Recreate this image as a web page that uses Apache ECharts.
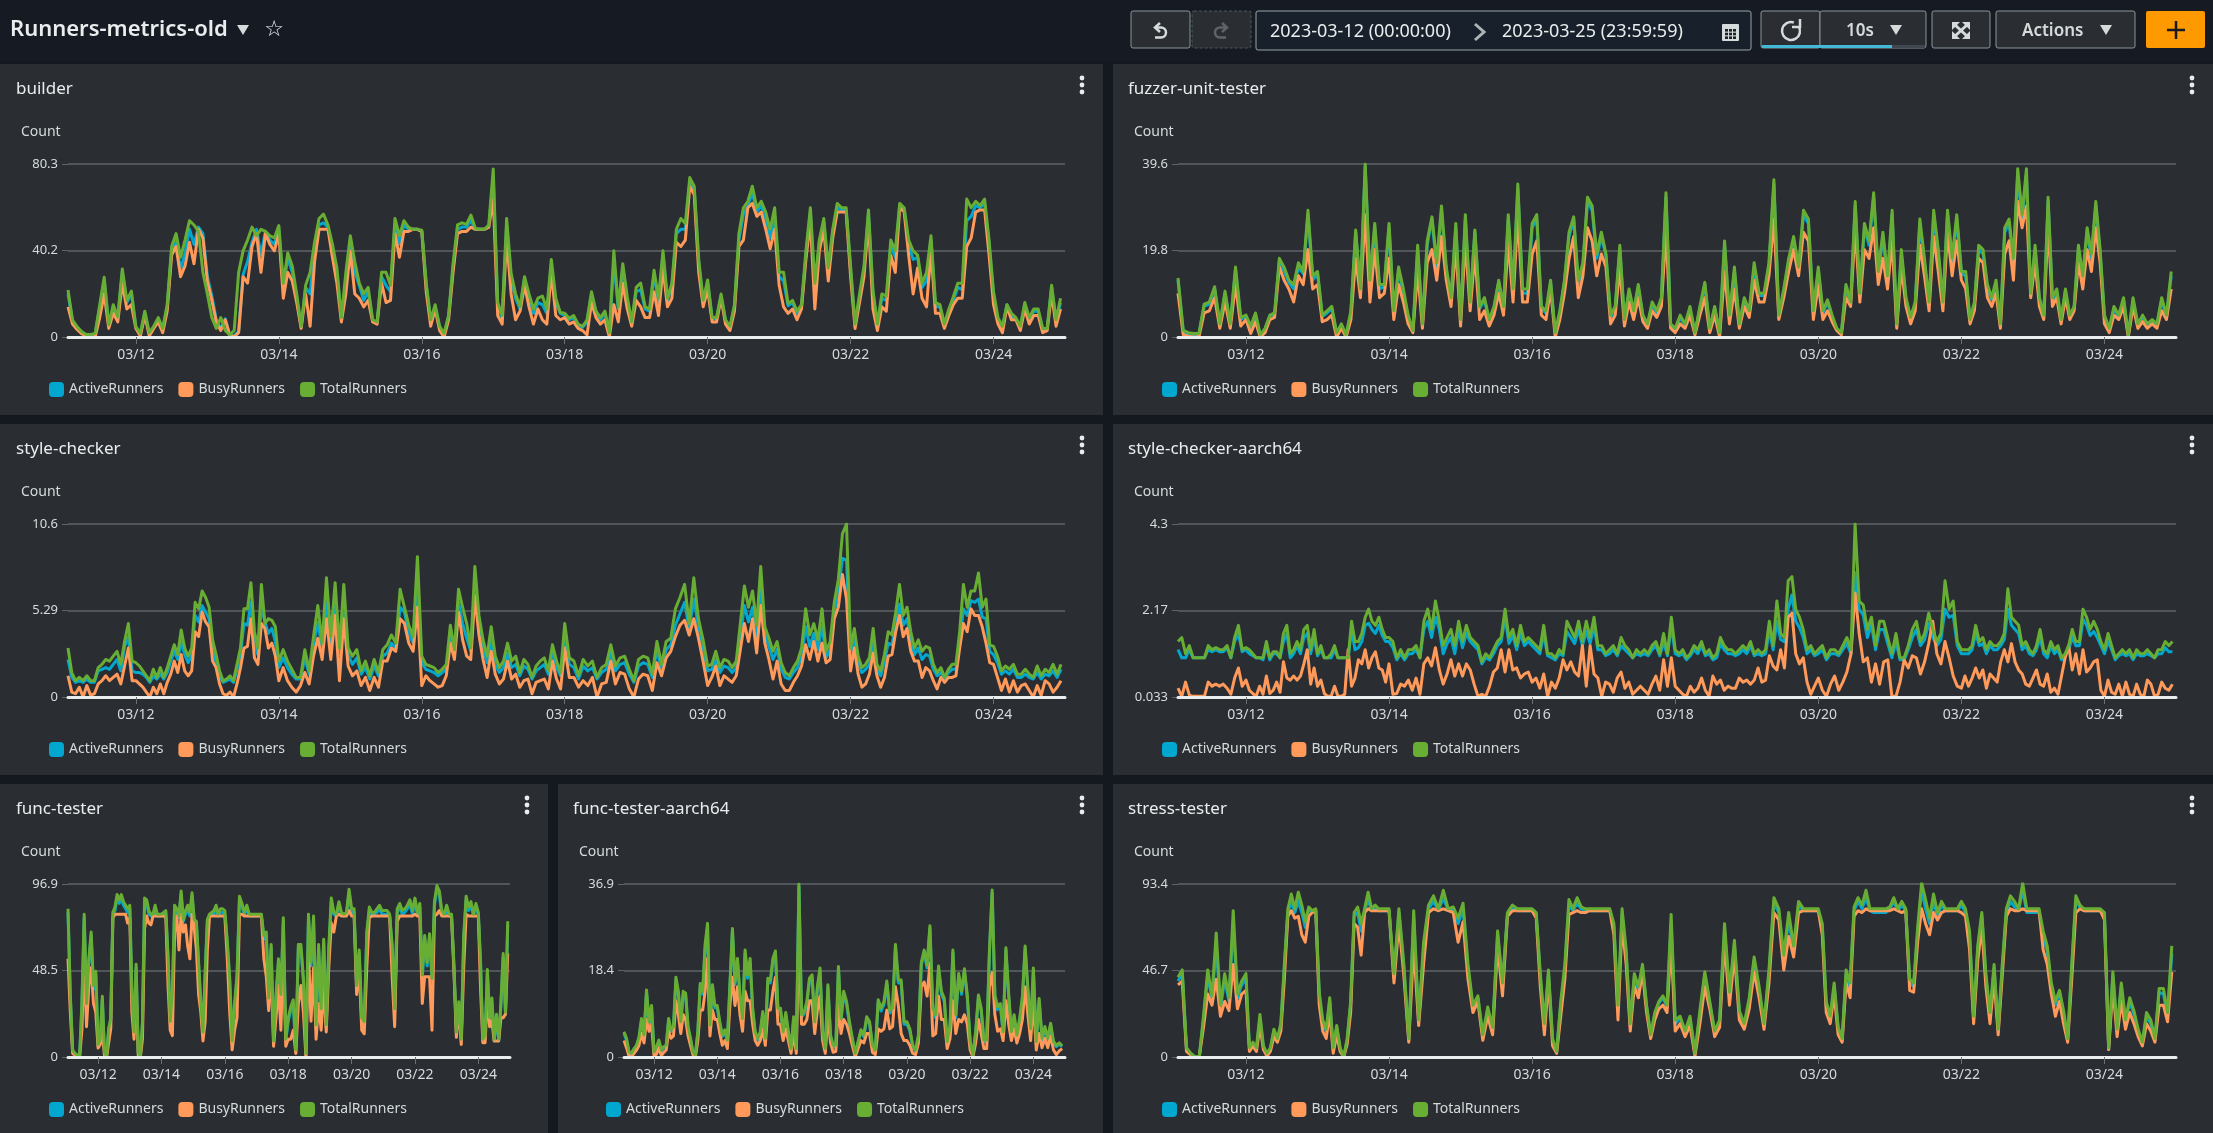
<!DOCTYPE html>
<html><head><meta charset="utf-8">
<style>html,body{margin:0;padding:0;background:#14181f;overflow:hidden}#c{width:2213px;height:1133px}</style>
<script src="https://cdn.jsdelivr.net/npm/echarts@6/dist/echarts.min.js"></script>
</head><body><div id="c"></div>
<script>
const xTickLabels=['03/12','03/14','03/16','03/18','03/20','03/22','03/24'];
const seriesNames=['ActiveRunners','BusyRunners','TotalRunners'];
const seriesColors=['#01a7cf','#ff9a5a','#69ae34'];

const builderTicks=[0,40.2,80.3];
const builderTotal=[
[21.8,7.9,4.8,2.5,1.2,1.2,1.7,14.9,27.7,5.6,15,9.4,31.6,17,21.3],
[4.8,1.7,12,2,5,9,4,15,42,48,37,45,54,52,49,30,20,9,4,9,3,1,3,30,40,45,51,47,50,49,47,46],
[51.7,25,39,33,20,5,24,30,44,55,57,52,43,32,9,30,47,35,25,20,23,8,7,30,30,24,55,47,54,51,50,50],
[49.6,25,8,15,5,1.7,10,34,52,53,52.3,56.6,50.4,50,50,52,78,16,10,55,29.5,20,14,28,20,13,18,19,13,36,18,11.4],
[11,8.7,10,6,5,8,21,12,9,12,2,40,14,34,18.7,7,23,25,14,13,31,18,40,18,25,50,55,52.7,74,70,36,17],
[26.5,9,9,20,8,5,15,48,60,63,70,60,63,58,50,60,30,30,15.6,17,12,15,40,60,25,45,55,32,50,62,60,60],
[33,6,20,33,59,22,6,20,19,45,40,62,60,45,40,38,25,30,47,16,15,6,13,18.7,25,25,64,60,63,61,64,45],
[21,9,5,15,11,9,5,16,9,13,13,4,4,24,8,18]];
const builderBusy=[
[14,6,3.5,1.5,0.5,0,0,9,20,4,11,7,25,13,15],
[4,0.5,10,0.5,4,7,2,12,38,42,28,33,44,34,50,46,26,17,7,3,8,1,0,2,28,25,42,48,30,48,43,40],
[48,18,30,26,16,4,20,5,35,50,50,50,37,25,7,20,40,20,18,14,17,7,6,25,16,17,48,37,49,49,50,50],
[49,21,5,13,3,0,8,30,48,49,49,51,50,50,50,51,64,10,6,46,20,8,12,24,14,6,13,8,6,30,10,8],
[9,6,7,4,3,1,16,9,6,8,0,15,7,25,13,5,17,14,9,9,21,10,32,14,18,44,42,45,70,66,30,14],
[22,7,7,18,6,3,12,42,45,60,62,56,58,50,41,50,24,14,11,13,8,13,36,54,13,40,50,26,46,58,58,58],
[28,4,16,28,54,13,3,14,12,38,30,60,58,38,20,32,18,14,40,11,11,4,10,15,18,18,42,46,58,59,59,38],
[15,6,2,14,8,8,3,13,6,10,10,2,3,20,5,13]];
const builderActive=[
[20,7.5,4.5,2.2,1,1,1.5,13.5,26,5.2,14,9,30,16,20],
[4.5,1.2,11,1.5,4.5,8.5,3.5,14,40,45,31,39,50,43,51,48,28,19,8,3.8,8.5,0.8,0.5,2.6,29,35,44,50,38,49,45,43],
[50,22,37,30,18,4.5,23,20,42,52,53,51,41,30,8.4,26,45,30,24,17,21,7.5,6.5,28,24,21,52,43,52,50,50,50],
[49,24,7,14,4.5,1.2,9.5,32,50,51,51,54,50,50,50,51,74,14,9,52,27,18,13,27,18,11,16,15,11,33,16,11],
[10,8,9,5.5,4.5,7,20,11,8,11,1.5,35,13,32,17,6,21,22,13,12,29,16,38,17,24,48,50,50,72,68,34,16],
[25,8.5,8.5,19,7.5,4.5,14,45,57,61,67,58,61,55,46,56,28,26,14.5,16,11,14,38,58,20,44,53,30,49,60,59,59],
[31,5.5,18,31,57,20,5.5,18,17,43,37,61,59,43,36,37,23,26,45,14,14,5.5,12,17,23,22,54,56,61,60,62,43],
[19,8,4,15,10,8.5,4.5,15,8,12,12,3.5,3.5,23,7.5,16]];

const fuzzerTicks=[0,19.8,39.6];
const fuzzerTotal=[
[13.5,1.5,1,0.8,0.8,7.5,8,11.5,3,10.5,3,16,4.5],
[5,2.5,5.5,0.5,2,5,5.5,18,16,13,12,17,15,29,14,15,5,6,7,1,3,0.5,6,24.5,11,39.6,13,26,12,12],
[26,6,16,11,5,1.5,21,3,22,27.5,17,30,16,9,26,4,28,8,24.5,7,9,4,7,13,7,28,11,35,11,11],
[26,28,7,6,13,1,6,13,24,27.5,13,17,32,30,19,24,19,5,7,21,4,11,6,12,5,3,8,6,9,33,3],
[2,5,3,7,1,7,12.5,2,7,1,22,5,16,3,9,6,17,10,10,17,36,5,11,18,23,16,29,27,6],
[16,6,8.5,5,2,1,12,8,31,10,26,22,33,15,24,14,29,3,20,9,4.5,8,27,18,8,29,20,8,29,18,28],
[15,15,4,8,21,20,12,9,13,3,25,27,18,38.5,28,38.5,10,21,9,5,32,9,11,4,11,5,7,21,14,25,19,31,20],
[5,2,7,5,9,0.5,9,3,5,3,4,3,9,5,15]];
const fuzzerBusy=[
[10,0.5,0.2,0,0,5.5,6,9,2,8,2,12,2.5],
[4,0.8,3.5,0,1,4,4.5,16,13,11,8,14,12,20,11,12,3.5,4,5,0,2,0,4,18,9,28,8,20,9,10],
[18,4,12,8,3,1,15,2,17,20,13,23,13,7,21,2.5,22,6,19,4,6,2.5,5,10,5,22,8,28,8,8],
[19,22,5,4,11,0,4,10,18,23,9,14,25,22,14,19,16,3,5,16,2.5,8,4,9,3.5,2,6,4.5,7,24,2],
[1,3,2,5,0.5,5,9,1,5,0,15,3,11,2,7,4.5,13,8,8,14,27,4,9,15,20,14,24,22,4],
[12,4,6,3.5,1.5,0.5,9,7,25,8,20,18,25,12,18,11,22,2,16,7,3,6,21,14,6,23,15,6,24,14,22],
[13,11,3,6,18,17,9,7,10,2,19,22,13,31,25,30,9,17,7,4,26,7,9,3,9,4,6,17,11,20,15,25,17],
[3,1,5,4,7,0,7,2,3.5,2,3,2,6,4,11]];
const fuzzerActive=[
[13,1.2,0.8,0.6,0.6,7,7.5,11,2.8,10,2.8,15.5,4],
[4.7,2.2,5,0.4,1.8,4.8,5.2,17.5,15,12.5,11,16,14.5,28,13,14.5,4.7,5.5,6.5,0.8,2.7,0.3,5.5,24,10.5,39,12,25,11,11.5],
[25,5.5,15,10,4.5,1.2,20,2.7,21,27,16,29,15,8.5,25,3.7,27,7.5,24,6.5,8.5,3.7,6.5,12.5,6.5,27,10,34,10,10],
[25,27,6.5,5.5,12.5,0.8,5.5,12.5,23,27,12,16.5,31,29,18,23,18.5,4.5,6.5,20,3.5,10.5,5.5,11.5,4.5,2.7,7.5,5.5,8.5,32,2.7],
[1.7,4.5,2.7,6.5,0.8,6.5,12,1.7,6.5,0.7,21,4.5,15,2.7,8.5,5.5,16,9.5,9.5,16,35,4.5,10.5,17,22,15,28,26,5.5],
[15,5.5,8,4.5,1.8,0.8,11.5,7.5,30,9.5,25,21,32,14,23,13,28,2.7,19,8.5,4,7.5,26,17,7.5,28,19,7.5,28,17,27],
[14.5,14,3.7,7.5,20,19,11,8.5,12,2.7,24,26,17,37,27,37,9.5,20,8.5,4.5,31,8.5,10.5,3.7,10.5,4.5,6.5,20,13,24,18,30,19],
[4.5,1.7,6.5,4.5,8.5,0.3,8.5,2.7,4.5,2.7,3.6,2.7,8.5,4.5,14]];

const styleTicks=[0,5.29,10.6];
const styleTotal=[
[3,1.5,1,1.2,1,1.3,1,1,1.8,2,2.3,2.2,2.5,2.8,2,3.4,4.5,2.2],
[2.1,1.9,1.6,1.3,1,1.7,1.2,1.8,1.2,1.8,2.5,3.2,2.6,4.1,3,2.5,3,5.8,5.4,6.5,6.1,5.5,3.5,2.6,1.6,1,1.1,1.3,1,2,3,5.4,5.4,7,4,3,6.9,4.5,4.8,4.7,4.3],
[2.2,2.9,2.2,1.7,1.2,1.2,2.9,1.6,3.7,5.6,3.3,7.3,3.7,7,3,6.9,3,2.5,2.9,1.6,2.2,1.3,2.3,1.5,2.9,3.2,3.8,3.3,6.6,5.5,4.4,3.7,8.6],
[2.5,2,1.9,1.8,1.5,1.7,2,4.4,2.9,6.6,5.5,4.5,3,8,5,3.5,2.5,4.3,2.5,1.8,2.2,3.3,2.2,2.5,1.5,2.3,2,1.2,1.9,2.2,2.4,1.6,3.2,2.2,1.5],
[4.5,2.4,2.2,1.3,2.3,1.9,2.2,1.2,1.8,2,3.2,1.9,2.4,2.5,1.7,1,2.3,2.5,2.4,1.4,3.4,2,3.4,3.6,5.4,6.1,6.9,4.5,7.3,4.8,3.5],
[1.9,2,2.8,1.8,2.3,2.2,1.8,2.2,4.5,6.8,5.5,6.5,4.4,8,4.3,3.6,2.8,3.4,2.1,1.5,1.3,1.8,2.2,3,5.4,3.8,4.5,3.5,5.4,2.8,3.4,5.8,7.2,10,10.6],
[3,4.2,2.5,1.8,2,2.4,4.2,2,1.6,2.6,4,3.8,5.2,6.9,5,5.5,4,3,3.5,2.8,3.1,3,2,1.5,1.8,1.2,1.7,2,2,4,6.9,5.5,6.5,6.5,7.6,5.5,6,3.2],
[3.1,2.5,1.6,1.9,1.7,2,1.4,1.4,1.7,1.4,1.2,1.9,1.3,1.7,1.5,2,1.4,2]];
const styleBusy=[
[1.3,0.3,0.2,0.6,0,0.7,0.1,0.2,0.8,1,1.3,1,1.2,1.4,0.8,1.9,3,1],
[1,0.8,0.6,0.3,0,0.6,0.2,0.8,0.2,0.9,1.4,2.2,1.5,2.6,1.6,1.3,1.6,4,3.7,5.2,4.6,4.3,2.2,1.8,0.8,0.2,0.1,0.3,0,0.8,1.8,3,3.1,4.8,2.4,2,4.5,4.2,3,3.3,2.5],
[1,1.8,1,0.6,0.3,0.7,1.5,0.8,2.5,3.6,2.3,4.8,2.3,5,1,4.8,1.9,1.3,1.6,0.7,1.2,0.4,1.2,0.6,2.2,2.2,3,2.8,4.8,4.5,3.3,2.8,5.5],
[0.7,1.3,1,0.8,0.6,0.7,1.3,3.3,2.3,5.2,3.5,2.5,2.3,6.2,3.8,2.3,1.2,2.8,1.4,0.8,1.1,2.2,1.1,1.4,0.6,1,1.1,0.2,0.9,1,1.1,0.5,2.2,1.1,0.5],
[3,1.2,1.2,0.6,1,0.7,1.2,0,0.8,0.9,2.2,0.8,1.5,1.4,0.5,0,1.1,1.4,1.3,0.4,2.1,1.3,2.4,2.8,3.7,4.4,4.7,3.8,4.8,3.6,2.2],
[0.7,1.2,1.9,0.7,1.3,1.1,0.9,1.3,2.9,4.5,3.4,4.8,2.7,5.6,3.3,2.3,1.1,2.2,0.8,0.4,0.4,0.9,1.3,1.9,3.2,2.3,3.4,2.2,3.3,2.1,2.3,4.8,5.5,7.5,6],
[1.6,3,1.4,0.6,0.8,1.4,2.7,1.3,0.6,1.2,2.5,2.6,4,5,3.7,4.2,2.8,2.2,2.2,1.2,1.8,1.6,1,0.5,1.2,0.9,1.2,1.2,1.3,3,4.5,4,5.4,5,5,4.3,3.3,2.1],
[2,1.2,0.4,1.1,0.3,1,0.3,0.7,0.8,0.4,0,0.7,0.1,1,0.8,0.3,0.6,1]];
const styleActive=[
[2.3,1.2,0.9,1,0.9,1.1,0.9,0.9,1.6,1.7,1.8,1.7,2,2.3,1.6,3.1,3.7,1.6],
[1.5,1.5,1.4,1.2,0.9,1.3,1.1,1.4,1.1,1.5,2.2,2.8,2.3,3.4,2.6,2.1,2.6,5,4.6,5.6,5.2,4.8,3,2.1,1.3,0.9,1,1.1,0.9,1.7,2.6,4.5,4.4,5.8,3.3,2.6,5.6,4.6,3.9,4.2,3.4],
[1.8,2.4,1.8,1.4,1.1,1.1,2.4,1.4,3.2,4.6,2.9,5.8,3,5.6,2.6,5.6,2.6,2,2.4,1.4,1.8,1.1,1.9,1.3,2.5,2.7,3.3,3,5.5,5.2,3.9,3.3,6.8],
[2.1,1.7,1.6,1.5,1.3,1.5,1.7,3.8,2.6,5.8,4.5,3.6,2.8,7,4.2,3,2.1,3.5,2,1.5,1.8,2.7,1.8,2,1.3,1.9,1.7,1.1,1.6,1.8,2,1.4,2.8,1.8,1.3],
[3.8,2,1.8,1.1,1.9,1.6,1.8,1.1,1.5,1.7,2.7,1.6,2,2.1,1.4,0.9,1.9,2.1,2,1.2,2.9,1.7,2.9,3.2,4.4,5.1,5.8,4.2,6,4.3,3],
[1.6,1.7,2.3,1.5,1.9,1.8,1.5,1.8,3.7,5.6,4.6,5.5,3.7,6.7,3.8,3.1,2.3,2.9,1.7,1.2,1.1,1.5,1.8,2.5,4.3,3.1,3.9,2.9,4.4,2.4,2.9,5.2,6.5,8.5,8.4],
[2.4,3.5,2,1.5,1.7,2,3.5,1.7,1.3,2.2,3.3,3.2,4.5,5.7,4.4,4.8,3.5,2.6,3,2.3,2.6,2.5,1.7,1.3,1.5,1.1,1.5,1.7,1.7,3.4,5.4,5,5.9,5.8,6,4.9,4.8,2.8],
[2.6,2.1,1.4,1.6,1.4,1.7,1.2,1.2,1.4,1.2,1.1,1.5,1.1,1.4,1.3,1.6,1.2,1.7]];

const styleArmTicks=[0.033,2.17,4.3];
const styleArmTotal=[
[1.4,1.5,1.1,1.3,1,1,1,1,1.3,1.2,1.25,1.2,1.2,1.3,1,1.5,1.8,1.2],
[1.25,1.2,1.1,1,1,1,1.4,1,1.15,1.15,1,1.6,1.8,1.1,1.2,1.4,1.2,1.7,1.8,1.2,1.7,1.1,1.3,1,1,1.1,1.3,1,1,1,1,1.9,1.4,1.4,1.6,2,2.2,1.9,1.8,2,1.7,1.5],
[1.5,1.4,1,1.2,1,1.2,1.2,1.3,1,1.9,2.2,1.7,2.4,1.9,1.3,1.5,1.7,1.3,1.9,1.4,1.8,1.5,1.4,1.3,0.9,1.1,1,1.2,1.4,1.5,2.2,1.5,1.7,1.3,1.8,1.4,1.5],
[1.4,1.3,1.2,1.8,1.1,1.1,1,1.2,1.1,1.9,1.7,1.5,1.9,1.4,1.9,1.5,2,1.3,1.3,1.1,1.2,1.3,1.1,1.5,1.3,1.2,1,1.2,1.1,1.2,1.1,1.3,1.4,1.1,1.6,1.1,2],
[1.2,1.1,1.2,1,1.1,1.3,1.2,1.4,1.1,1.2,1,1.1,1.5,1.3,1.2,1.2,1.1,1.2,1.3,1.2,1.4,1.1,1.2,1.1,1.2,1.9,1.3,2.4,1.6,1.5,2.9,3,2.2,2,1.7,1.2,1.3,1.1],
[1.2,1.3,1,1.2,1.2,1.1,1.3,1.5,1.2,4.3,2.4,2.3,1.7,2,1.3,1.9,1.9,1.5,1.1,1.6,1,1,1.3,1.7,1.9,1.4,1.6,2.1,1.7,1.4,1.6,2.9,2.2,2.4,1.4],
[1.2,1.2,1.2,1.3,1.8,1.4,1.5,1.2,1.4,1.3,1.3,1.4,1.6,2.7,2,1.9,1.8,1.3,1.4,1.2,1.1,1.3,1.7,1.2,1.1,1.4,1.2,1.3,1,1.1,1.3,1.7,1.4,1.4,2.2,2,1.7,1.9,1.7,1.4],
[1.2,1.6,1.3,1,1.1,1.2,1.1,1.2,1,1.2,1.1,1.1,1.2,1.1,1,1.2,1.2,1.4,1.3,1.4]];
const styleArmBusy=[
[0.25,0.05,0.4,0.08,0.05,0.05,0.05,0.05,0.4,0.3,0.35,0.3,0.35,0.25,0.1,0.5,0.75,0.3],
[0.45,0.2,0.12,0.05,0.3,0.1,0.55,0.12,0.2,0.4,0.15,0.9,0.5,0.45,0.55,0.45,0.55,0.85,1.2,0.35,0.75,0.3,0.45,0.12,0.05,0.05,0.3,0.05,0.05,0.1,1.2,0.3,0.5,0.95,0.85,1.2,0.75,1,1.15,0.75,0.7,0.4],
[0.85,0.1,0.12,0.35,0.3,0.45,0.2,0.5,0.1,0.85,1,0.8,1.25,0.7,0.35,0.6,0.95,0.55,0.85,0.55,0.85,0.7,0.35,0.05,0.1,0.05,0.3,0.65,0.75,1.2,0.65,1.2,0.7,0.75,0.5,0.6,0.65],
[0.4,0.5,0.25,0.6,0.05,0.4,0.25,0.5,0.95,0.7,0.9,0.65,0.55,1.3,0.3,1.3,0.6,0.5,0.05,0.4,0.35,0.15,0.5,0.65,0.25,0.4,0.1,0.2,0.3,0.2,0.1,0.35,0.55,0.2,0.95,0.3,1],
[0.3,0.2,0.1,0.05,0.3,0.15,0.25,0.5,0.2,0.05,0.55,0.35,0.45,0.2,0.3,0.25,0.25,0.5,0.4,0.45,0.35,0.45,0.75,0.4,0.45,1.05,0.8,0.7,1.2,0.75,2,2.1,1.1,0.85,1,0.4,0.1,0.3],
[0.5,0.2,0.05,0.35,0.55,0.2,0.4,0.65,1.1,2.6,1.6,0.9,1,0.4,0.85,0.35,0.9,0.95,0.05,0.05,0.4,0.95,0.75,1.05,1,0.6,0.9,1.35,1.9,1.1,0.85,1.4,1,0.55,0.3],
[0.25,0.55,0.3,0.5,0.75,0.5,0.7,0.25,0.6,0.5,0.4,0.9,1.2,0.9,1.35,0.9,0.7,0.6,0.35,0.3,0.5,0.7,0.35,0.3,0.6,0.15,0.25,0.1,0.55,1,1.3,0.7,1.1,0.6,1.2,0.65,0.75,0.9,0.95,0.2],
[0.05,0.45,0.15,0.1,0.35,0.05,0.4,0.1,0.05,0.35,0.1,0.05,0.45,0.35,0.05,0.1,0.4,0.25,0.2,0.35]];
const styleArmActive=[
[1.2,1,1,1.2,1,1,1,1,1.2,1.15,1.2,1.15,1.15,1.25,1,1.4,1.6,1.15],
[1.2,1.1,1.05,1,1,0.95,1.3,0.95,1.1,1.1,1,1.4,1.6,1,1.1,1.3,1.1,1.5,1.6,1.1,1.5,1.05,1.2,1,1,1,1.2,1,1,1,1,1.7,1.2,1.25,1.4,1.8,1.85,1.7,1.6,1.8,1.55,1.4],
[1.4,1.25,0.95,1.1,0.95,1.1,1.1,1.2,1,1.7,1.9,1.5,2,1.7,1.1,1.35,1.5,1.1,1.7,1.25,1.6,1.4,1.3,1.2,0.85,1,0.95,1.1,1.3,1.4,2,1.35,1.55,1.2,1.6,1.3,1.4],
[1.3,1.2,1.1,1.6,1.05,1,0.95,1.1,1.05,1.65,1.5,1.35,1.7,1.3,1.65,1.35,1.8,1.2,1.2,1.05,1.1,1.2,1.05,1.3,1.2,1.1,1,1.1,1.05,1.1,1.05,1.2,1.3,1.05,1.4,1.05,1.8],
[1.1,1.05,1.1,0.95,1.05,1.2,1.1,1.3,1.05,1.1,0.95,1,1.35,1.2,1.1,1.1,1.05,1.1,1.2,1.1,1.3,1.05,1.1,1.05,1.1,1.7,1.2,1.9,1.45,1.4,2.2,2.55,1.9,1.75,1.5,1.1,1.2,1.05],
[1.1,1.2,0.95,1.1,1.1,1.05,1.2,1.35,1.1,3.1,2.2,2.05,1.5,1.8,1.2,1.7,1.7,1.35,1,1.4,0.95,0.95,1.2,1.5,1.7,1.3,1.45,1.85,1.5,1.3,1.45,2.2,2,2.05,1.3],
[1.1,1.1,1.1,1.2,1.6,1.3,1.35,1.1,1.3,1.2,1.2,1.3,1.45,2.2,1.8,1.7,1.6,1.2,1.3,1.1,1.05,1.2,1.5,1.1,1,1.3,1.1,1.2,0.95,1.05,1.2,1.5,1.3,1.3,1.95,1.8,1.55,1.65,1.5,1.3],
[1.1,1.4,1.2,0.95,1.05,1.1,1.05,1.1,0.95,1.1,1.05,1.05,1.1,1.05,1,1.1,1.1,1.25,1.15,1.15]];

const funcTicks=[0,48.5,96.9];
const funcTotal=[
[83,35,4,2,1,0,30,80,30,55,70,40,48],
[7,10,34,3,0,16,22,81,84,91,88,91,87,85,83,85,37,14,52,3,0,20,89,88,82,80,80,85,80,80],
[80,81,82,57,20,37,85,83,79,93,77,82,85,81,92,77,76,53,31,14,48,77,80,81,82,85,80,83,83],
[82,65,44,9,30,46,90,86,81,85,80,80,80,80,80,80,68,70,33,63,9,35,55,35,78,10],
[22,28,32,4,63,63,44,2,80,53,79,18,63,27,66,18,61,89,81,80,87,81,80,81,94],
[83,83,40,60,22,20,70,84,81,81,83,85,82,82,82,80,63,27,83,86,82,83,85,88,82],
[89,81,86,46,68,53,69,44,87,96,93,82,80,85,80,80,52,14,31,10,68,90,84,87,80,86],
[81,53,10,12,49,22,33,10,24,10,31,58,25,76]];
const funcBusy=[
[55,25,2,1,0,0,15,55,17,40,50,30,25],
[5,7,14,1,0,8,16,78,80,80,80,80,80,80,75,78,25,10,40,1,0,10,72,79,75,74,79,79,79,79],
[79,79,78,40,15,12,70,79,60,80,70,74,62,55,80,72,60,35,25,9,20,60,79,79,79,79,79,79,79],
[79,55,25,4,15,22,80,80,79,79,79,79,79,79,79,79,55,45,26,50,6,22,40,15,62,6],
[10,10,15,2,30,40,25,0,60,20,50,10,30,15,40,14,50,75,70,79,80,79,79,79,82],
[79,79,35,50,15,13,50,78,79,79,79,79,79,79,79,79,45,17,76,79,79,79,79,79,79],
[80,79,79,30,45,45,45,15,79,80,82,79,79,79,79,79,48,11,28,7,50,80,79,79,79,79],
[79,38,8,8,35,17,20,9,9,9,22,22,24,58]];
const funcActive=[
[81,33,3,2,1,0,28,78,28,53,68,38,46],
[6,9,32,2,0,15,20,80,82,89,86,89,85,83,81,83,35,13,50,2,0,18,87,86,80,79,79,83,79,79],
[79,80,80,55,19,35,83,81,78,91,76,80,83,79,90,76,74,51,29,13,46,76,79,80,80,83,79,81,81],
[80,63,42,8,28,44,88,84,80,83,79,79,79,79,79,79,66,68,31,61,8,33,53,33,76,9],
[20,26,30,3,61,61,42,1,78,51,77,16,61,25,64,17,59,87,80,79,85,80,79,80,92],
[81,81,38,58,20,18,68,82,80,80,81,83,80,80,80,79,61,25,81,84,80,81,83,86,80],
[87,80,84,44,66,51,67,42,85,94,91,80,79,83,79,79,50,13,29,9,66,88,82,85,79,84],
[80,51,9,11,47,20,31,9,22,9,29,56,24,74]];

const funcArmTicks=[0,18.4,36.9];
const funcArmTotal=[
[5.4,4,1.1,0.8,1.8,2.5,4.3,8.2,4.7,14.3,7.5,11],
[1.1,2.2,3.6,1.5,2.2,2.5,8.2,5.8,6.5,17,14,7.5,14,13.6,6.5,4,1.1,0.4,5.4,15.7,14,24,28.5,6.8,15.4,11],
[11,7.5,4.7,5.8,3.6,15.4,27.4,16,21,13.2,8.2,22.8,17.5,21,10.4,5.4,4,5.4,9.7,4,16.8,16.4,21,22.6,10.4],
[10.4,5.4,9.5,5.4,1.8,8.6,1.8,36.9,9,9.7,11.8,16.8,17.5,7.5,15,19,5.4,1.8,15.4,4.7,2.5,2.5,19.3,8.2],
[14,11.8,7.5,4,0.8,3.3,5.8,4.7,8.6,7.5,2.5,1.5,12.2,10.4,11.8,16.2,10,10.4,24,16.4,16.4,7.5],
[7.5,6,2.5,1.5,4.7,20.2,22.8,19.6,28,10.4,9,19.4,14,12.5,3.3,6.8,22.8,9,17.8,14,18.8,13.2],
[3.3,0.4,5.4,13.2,10.4,3.6,3.6,22.5,35.6,13.2,10.7,11.4,5.4,23.3,13.6,5.4,9,4.7,8.2,12.9,23.7,14.6,6],
[19,3.3,12.5,4,6.5,4,7.2,3.3,2.5,3,2.4]];
const funcArmBusy=[
[3.5,2,0.2,0.1,0.8,1.5,2.5,5,3,8,5.5,7],
[0.3,0.6,2,0.3,1,1.5,5.5,4,4.5,12,9,5,9,8,4.5,2.5,0.5,0,3.5,10,10,14,21,4.5,10,8],
[8,5,2.5,3.5,1.8,11,17,11,15,9,5.5,14,12,12,7,3.5,2.5,3.5,6,2.5,10,10,14,17,7],
[7,3.5,6,3.5,0.8,5,0.8,27,7,7,8,12,12,5,10,13,3.5,0.8,9,3,1,1.2,11,5],
[8,7,5,2.5,0,1.8,3.5,3,5,5,1,0.5,6,5.5,6,10,6,6.5,15,11,5,3.5],
[3.5,2.5,0.8,0.5,3,15,16,13,20,4.5,5,13,8,8,1.8,4,12,5,8,7.5,9,7],
[1.5,0,3,8,5,1.8,1.8,15,18,9,5.5,6,3.5,12,7,3.5,6,3,5,8,15,9,3.5],
[12,1.5,5,2,4,2,4.5,1.5,0.5,1.3,1.8]];
const funcArmActive=[
[5,3.6,0.9,0.6,1.6,2.3,4,7.8,4.4,13.8,7,10.5],
[0.9,2,3.3,1.3,2,2.3,7.8,5.4,6,16.4,13.4,7,13.4,13,6,3.7,0.9,0.3,5,15,13.4,23,27.5,6.3,14.8,10.5],
[10.5,7,4.4,5.4,3.3,14.8,26.8,15.4,20.4,12.6,7.8,22,16.8,20,9.8,5,3.6,5,9.2,3.6,16.2,15.8,20.2,22,9.8],
[9.8,5,9,5,1.6,8.1,1.6,36.4,8.5,9.2,11.2,16.2,16.8,7,14.4,18.4,5,1.6,14.8,4.3,2.2,2.2,18.7,7.7],
[13.4,11.2,7,3.6,0.6,3,5.4,4.3,8.1,7,2.2,1.3,11.7,9.8,11.2,15.6,9.4,9.8,23.4,15.8,15.8,7],
[7,5.6,2.2,1.3,4.3,19.6,22.2,19,27.4,9.8,8.4,18.8,13.4,11.9,3,6.3,22.2,8.4,17.2,13.4,18.2,12.6],
[3,0.3,5,12.6,9.8,3.3,3.3,21.9,35,12.6,10.1,10.8,5,22.7,13,5,8.4,4.3,7.7,12.3,23.1,14,5.6],
[18.4,3,12,3.6,6,3.6,6.7,3,2.2,2.7,2.2]];

const stressTicks=[0,46.7,93.4];
const stressTotal=[
[43,47,5,2,0,0,22,47,33,67,28,45,32,79,34,41],
[45,5,8,5,23,6,2,5,15,10,18,50,80,88,80,89,82,73,81,79,80,35,20,15,32,5,17,5,0,10,30,78,81,72,80,89,80,82,80,80,80],
[80,45,80,50,10,79,20,62,82,87,80,90,80,81,75,83,50,28,33,12,27,16,68,40,78,82,80,80,80],
[80,78,45,18,47,10,3,30,50,85,80,86,81,80,80,80,80,80,80,80,72,28,80,58,18,45,38,50,28,12,24,30,33,28,77],
[20,22,14,22,2,25,46,30,14,20,72,35,63,25,18,32,54,38,18,47,86,80,55,78,60,84,80,80,80],
[80,72,30,22,40,16,10,47,40,81,86,82,90,80,80,80,80,80,81,86,80,84,80,42,40,70,94,85,75,88,78,84,80,80,80,80],
[84,80,68,22,60,78,45,24,50,15,50,80,87,84,80,94,80,80,80,80,68,60,40,30,36,25,10,50,87,82,80,80,80,80,80],
[78,5,46,15,40,20,32,25,15,8,24,20,10,37,37,24,60]];
const stressBusy=[
[39,41,3,1,0,0,16,34,28,42,22,30,25,50,26,34],
[36,3,6,3,17,4,0.5,3,11,8,14,42,76,79,75,76,66,62,76,78,79,28,14,10,24,2,12,3,0,7,24,72,70,55,78,80,79,79,79,79,79],
[79,40,72,44,8,60,17,50,78,80,79,80,79,78,62,73,42,24,30,9,22,12,60,33,76,79,79,79,79],
[79,75,38,12,42,6,2,22,42,77,78,79,78,78,79,79,79,79,79,79,66,20,72,50,14,38,32,46,24,10,20,26,28,24,62],
[14,18,11,17,0.5,18,38,26,11,16,62,28,55,20,15,26,46,32,15,40,78,74,47,65,54,78,79,79,79],
[79,66,24,18,34,12,8,40,32,76,79,78,80,79,79,79,79,79,79,80,79,78,79,36,35,62,80,72,66,78,74,78,79,79,79,79],
[78,76,58,18,52,70,38,18,42,12,44,76,80,79,79,80,79,79,79,79,58,50,34,22,30,18,8,42,78,80,79,79,79,79,79],
[74,4,38,11,30,15,24,18,11,6,18,14,8,28,28,19,46]];
const stressActive=[
[41,45,4,2,0,0,20,44,31,60,26,42,30,72,32,39],
[42,4,7,4,21,5,1.5,4,14,9,17,48,78,84,78,84,78,70,80,78,79,33,18,14,30,4,16,4,0,9,28,76,78,68,79,85,79,80,79,79,79],
[79,43,78,48,9,75,19,58,80,84,79,86,79,80,72,80,47,26,32,11,25,15,66,37,77,80,79,79,79],
[79,77,43,16,45,9,3,28,47,82,79,83,80,79,79,79,79,79,79,79,70,26,77,55,17,43,36,48,27,11,23,29,32,27,72],
[18,21,13,21,1.5,23,44,29,13,19,68,33,60,24,17,30,52,36,17,45,83,78,52,74,58,82,79,79,79],
[79,70,28,21,38,15,9,45,38,79,84,80,86,79,78,78,78,78,80,84,79,82,79,40,38,67,90,80,72,84,76,82,79,79,79,79],
[82,78,65,21,58,76,43,22,48,14,48,78,84,81,79,90,78,78,78,78,65,57,38,28,35,23,9,48,84,81,79,79,79,79,79],
[76,4,44,14,38,18,30,23,14,7,22,18,9,35,34,22,56]];

const panels=[
{title:'builder',x:0,w:1103,y:64,h:351,gl:68,gw:997,tdx:0,ldx:0,ticks:builderTicks,s:[builderActive,builderBusy,builderTotal]},
{title:'fuzzer-unit-tester',x:1113,w:1100,y:64,h:351,gl:1178,gw:998,tdx:-1,ldx:0,ticks:fuzzerTicks,s:[fuzzerActive,fuzzerBusy,fuzzerTotal]},
{title:'style-checker',x:0,w:1103,y:424,h:351,gl:68,gw:997,tdx:0,ldx:0,ticks:styleTicks,s:[styleActive,styleBusy,styleTotal]},
{title:'style-checker-aarch64',x:1113,w:1100,y:424,h:351,gl:1178,gw:998,tdx:-1,ldx:0,ticks:styleArmTicks,s:[styleArmActive,styleArmBusy,styleArmTotal]},
{title:'func-tester',x:0,w:548,y:784,h:349,gl:68,gw:442,tdx:0,ldx:0,ticks:funcTicks,s:[funcActive,funcBusy,funcTotal]},
{title:'func-tester-aarch64',x:558,w:545,y:784,h:349,gl:624,gw:441,tdx:-1,ldx:-1,ticks:funcArmTicks,s:[funcArmActive,funcArmBusy,funcArmTotal]},
{title:'stress-tester',x:1113,w:1100,y:784,h:349,gl:1178,gw:998,tdx:-1,ldx:0,ticks:stressTicks,s:[stressActive,stressBusy,stressTotal]}
];

const DAY=864e5;
const tickTimes=xTickLabels.map(l=>Date.UTC(2023,+l.slice(0,2)-1,+l.slice(3)));
const tMin=tickTimes[0]-0.95*DAY, tMax=tickTimes[6]+1.0*DAY;
const rowEdges=[tMin,...tickTimes,tMax];
function toPoints(rows){
  const out=[];
  rows.forEach((row,r)=>{
    const a=rowEdges[r],b=rowEdges[r+1];
    row.forEach((v,j)=>out.push([a+(b-a)*j/row.length,v]));
  });
  return out;
}

const FONT='"Noto Sans"';
const TXT='#d5dbdb';
const grids=[],xAxes=[],yAxes=[],series=[],legends=[],g=[];
const swatch='path://M4,0H11A4,4,0,0,1,15,4V11A4,4,0,0,1,11,15H4A4,4,0,0,1,0,11V4A4,4,0,0,1,4,0Z';
panels.forEach((p,i)=>{
  grids.push({left:p.gl,top:p.y+100,width:p.gw,height:173,containLabel:false});
  xAxes.push({type:'value',gridIndex:i,min:tMin,max:tMax,z:5,
    axisLine:{show:true,onZero:false,lineStyle:{color:'#eaeded',width:3}},
    axisTick:{show:true,length:7,customValues:tickTimes,lineStyle:{color:'#6a6f74',width:1}},
    axisLabel:{show:true,customValues:tickTimes,margin:11,color:TXT,fontFamily:FONT,fontSize:14,hideOverlap:false,
      showMinLabel:true,showMaxLabel:true,formatter:(v)=>xTickLabels[tickTimes.indexOf(v)]||''},
    splitLine:{show:false}});
  yAxes.push({type:'value',gridIndex:i,min:p.ticks[0],max:p.ticks[2],
    axisLine:{show:false},
    axisTick:{show:true,length:6,customValues:p.ticks,lineStyle:{color:'#5f6469'}},
    axisLabel:{customValues:p.ticks,margin:10,color:TXT,fontFamily:FONT,fontSize:13,showMinLabel:true,showMaxLabel:true},
    splitLine:{show:true,customValues:p.ticks,lineStyle:{color:'#5f6469',width:1.5,type:'solid'}}});
  p.s.forEach((rows,k)=>series.push({type:'line',name:seriesNames[k],xAxisIndex:i,yAxisIndex:i,
    data:toPoints(rows),showSymbol:false,symbol:'none',smooth:false,animation:false,
    lineStyle:{color:seriesColors[k],width:3,join:'round'},itemStyle:{color:seriesColors[k]},z:2+k}));
  legends.push({show:true,left:p.x+49+p.ldx,top:p.y+318,itemWidth:15,itemHeight:15,itemGap:15,icon:swatch,padding:0,
    selectedMode:false,data:seriesNames,textStyle:{color:TXT,fontFamily:FONT,fontSize:14,padding:[0,0,0,0]}});
  g.push({type:'rect',z:-10,silent:true,shape:{x:p.x,y:p.y,width:p.w,height:p.h},style:{fill:'#2a2e33'}});
  g.push({type:'text',z:10,x:p.x+16+p.tdx,y:p.y+25,style:{text:p.title,fill:'#eaeded',font:'17px '+FONT,textVerticalAlign:'middle'}});
  g.push({type:'text',z:10,x:p.x+21,y:p.y+68,style:{text:'Count',fill:TXT,font:'14px '+FONT,textVerticalAlign:'middle'}});
  const mx=p.x+p.w-21;
  [-7,0,7].forEach(d=>g.push({type:'circle',z:10,shape:{cx:mx,cy:p.y+21+d,r:2.4},style:{fill:'#eaeded'}}));
});

// Dashboard header
const btn=(x,y,w,h,fill,stroke,dash)=>({type:'rect',z:1,shape:{x,y,width:w,height:h,r:2},style:{fill:fill||'#2a2e33',stroke:stroke||'#879596',lineWidth:1,lineDash:dash||null}});
const txt=(t,x,y,font,fill,align)=>({type:'text',z:3,x,y,style:{text:t,fill:fill||'#eaeded',font,textVerticalAlign:'middle',textAlign:align||'left'}});
const tri=(cx,cy,w,h,fill)=>({type:'polygon',z:3,shape:{points:[[cx-w/2,cy-h/2],[cx+w/2,cy-h/2],[cx,cy+h/2]]},style:{fill:fill||'#d5dbdb'}});
const pl=(pts,c,w)=>({type:'polyline',z:3,shape:{points:pts},style:{stroke:c,fill:'none',lineWidth:w,lineCap:'butt'}});
const arc=(cx,cy,r,a,b,cw,c,w)=>({type:'arc',z:3,shape:{cx,cy,r,startAngle:a,endAngle:b,clockwise:cw},style:{stroke:c,fill:'none',lineWidth:w}});
g.push({type:'rect',z:-11,silent:true,shape:{x:0,y:0,width:2213,height:62},style:{fill:'#161a23'}});
g.push(txt('Runners-metrics-old',10,30,'600 22px '+FONT,'#eaeded'));
g.push(tri(243,30,12,10,'#d5dbdb'));
g.push(txt('☆',274,30,'22px "DejaVu Sans"','#eaeded','center'));
g.push(btn(1131,11,59,37));
const HI='#d5dbdb',LO='#5f6469';
g.push(pl([[1160,23],[1155,27.5],[1160,32]],HI,2.5));
g.push(pl([[1155,27.5],[1161,27.5]],HI,2.5));
g.push(arc(1161,32.5,5,-Math.PI/2,Math.PI/2,true,HI,2.5));
g.push(pl([[1161,37.5],[1155,37.5]],HI,2.5));
g.push(btn(1192,11,59,37,'#2a2e33','#4f5661',[3,2]));
g.push(pl([[1222,23],[1227,27.5],[1222,32]],LO,2.5));
g.push(pl([[1227,27.5],[1220,27.5]],LO,2.5));
g.push(arc(1220,32.5,5,-Math.PI/2,Math.PI/2,false,LO,2.5));
g.push(pl([[1220,37.5],[1226,37.5]],LO,2.5));
g.push(btn(1256,11,495,39,'#18202b','#95a5a6'));
g.push(txt('2023-03-12 (00:00:00)',1270,32,'18px '+FONT));
g.push(pl([[1475,24],[1484,32],[1475,40]],'#aab7b8',3));
g.push(txt('2023-03-25 (23:59:59)',1502,32,'18px '+FONT));
g.push({type:'rect',z:3,shape:{x:1722,y:24,width:17,height:17,r:1},style:{fill:'#d5dbdb'}});
[0,1,2].forEach(r=>[0,1,2].forEach(c=>g.push({type:'rect',z:4,shape:{x:1725+c*4,y:29+r*3.7,width:3,height:2.6},style:{fill:'#1b2029'}})));
g.push(btn(1761,11,59,37));
g.push(btn(1820,11,106,37));
g.push(arc(1791,31,9,-0.55,-1.25+Math.PI*2,true,HI,2.5));
g.push(pl([[1792,27],[1800,27],[1800,19]],HI,2.5));
g.push({type:'rect',z:4,shape:{x:1762,y:45,width:163,height:3},style:{fill:'#414750'}});
g.push({type:'rect',z:5,shape:{x:1762,y:45,width:130,height:3},style:{fill:'#44b9d6'}});
g.push(txt('10s',1846,31,'600 17px '+FONT,'#d5dbdb'));
g.push(tri(1896,30,12,10));
g.push(btn(1932,11,58,37));
g.push(pl([[1954,24],[1968,37]],HI,3));
g.push(pl([[1968,24],[1954,37]],HI,3));
[[[1952,22],[1960,22],[1952,30]],[[1970,22],[1962,22],[1970,30]],[[1952,39],[1960,39],[1952,31]],[[1970,39],[1962,39],[1970,31]]].forEach(t=>g.push({type:'polygon',z:3,shape:{points:t},style:{fill:HI}}));
g.push(btn(1996,11,139,37));
g.push(txt('Actions',2022,31,'600 17px '+FONT,'#d5dbdb'));
g.push(tri(2106,30,12,10));
g.push({type:'rect',z:1,shape:{x:2146,y:11,width:59,height:37,r:2},style:{fill:'#ff9900'}});
g.push(pl([[2167,30],[2185,30]],'#16191f',2.5));
g.push(pl([[2176,21],[2176,39]],'#16191f',2.5));

const chart=echarts.init(document.getElementById('c'),null,{renderer:'canvas'});
chart.setOption({backgroundColor:'#14181f',animation:false,grid:grids,xAxis:xAxes,yAxis:yAxes,series:series,legend:legends,graphic:{elements:g},tooltip:{show:false}});
</script></body></html>
